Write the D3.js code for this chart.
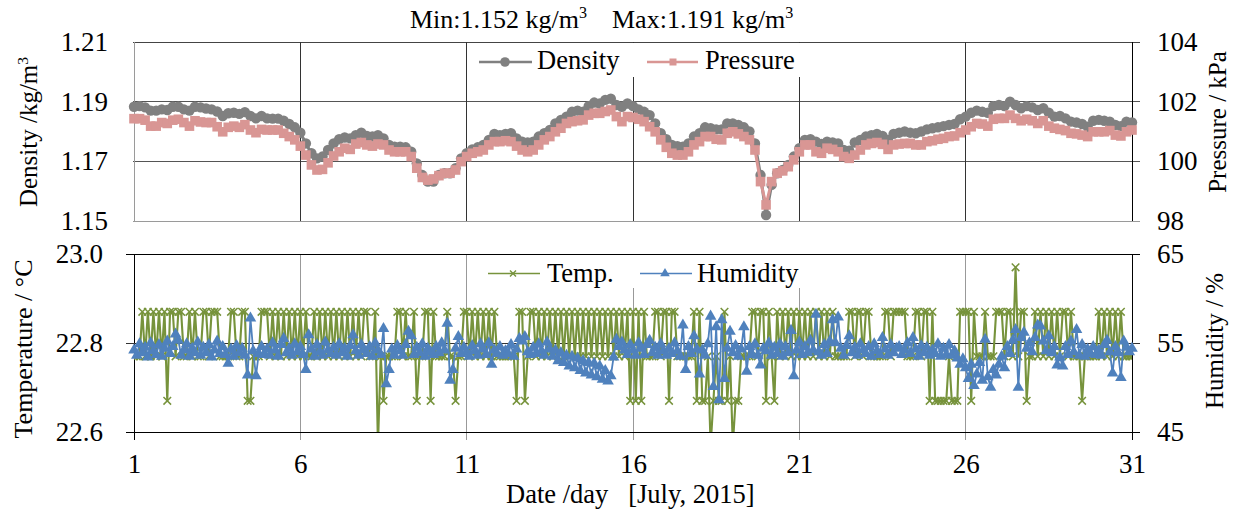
<!DOCTYPE html>
<html>
<head>
<meta charset="utf-8">
<script src="https://cdn.jsdelivr.net/npm/d3@7"></script>
<style>
  body { margin: 0; background: #fff; }
  svg, svg text { font-family: "Liberation Serif", "Times New Roman", serif; fill: #000; }
</style>
</head>
<body>
<div id="chart"></div>
<script>
// July 2015 indoor air record
const dayTicks = [1, 6, 11, 16, 21, 26, 31];
const densityTicks = [1.15, 1.17, 1.19, 1.21];
const pressureTicks = [98, 100, 102, 104];
const tempTicks = [22.6, 22.8, 23.0];
const humidityTicks = [45, 55, 65];

// sampling interval of each record, in days
const densityStep = 4 / 24;
const tempStep = 2 / 24;
const humidityStep = 2 / 24;

// density kg/m3, every 4 h (one row per day)
const density = [
  1.1883, 1.1885, 1.1881, 1.1870, 1.1870, 1.1874,
  1.1872, 1.1883, 1.1883, 1.1874, 1.1870, 1.1883,
  1.1881, 1.1877, 1.1874, 1.1867, 1.1852, 1.1861,
  1.1863, 1.1859, 1.1865, 1.1852, 1.1844, 1.1852,
  1.1844, 1.1843, 1.1843, 1.1836, 1.1825, 1.1814,
  1.1796, 1.1760, 1.1727, 1.1710, 1.1716, 1.1738,
  1.1760, 1.1774, 1.1780, 1.1777, 1.1788, 1.1796,
  1.1785, 1.1783, 1.1788, 1.1777, 1.1755, 1.1749,
  1.1749, 1.1747, 1.1732, 1.1693, 1.1654, 1.1632,
  1.1632, 1.1654, 1.1660, 1.1660, 1.1677, 1.1710,
  1.1727, 1.1740, 1.1747, 1.1755, 1.1772, 1.1792,
  1.1788, 1.1792, 1.1794, 1.1777, 1.1766, 1.1763,
  1.1766, 1.1783, 1.1794, 1.1805, 1.1827, 1.1839,
  1.1850, 1.1866, 1.1870, 1.1866, 1.1885, 1.1897,
  1.1894, 1.1906, 1.1910, 1.1889, 1.1883, 1.1894,
  1.1885, 1.1874, 1.1866, 1.1855, 1.1827, 1.1794,
  1.1774, 1.1755, 1.1751, 1.1749, 1.1760, 1.1783,
  1.1794, 1.1814, 1.1811, 1.1807, 1.1807, 1.1827,
  1.1827, 1.1822, 1.1814, 1.1800, 1.1760, 1.1654,
  1.1520, 1.1621, 1.1660, 1.1671, 1.1688, 1.1716,
  1.1744, 1.1772, 1.1774, 1.1766, 1.1758, 1.1766,
  1.1763, 1.1760, 1.1738, 1.1736, 1.1763, 1.1772,
  1.1783, 1.1788, 1.1792, 1.1785, 1.1772, 1.1792,
  1.1796, 1.1800, 1.1796, 1.1794, 1.1800, 1.1807,
  1.1811, 1.1814, 1.1818, 1.1822, 1.1825, 1.1841,
  1.1850, 1.1863, 1.1870, 1.1866, 1.1863, 1.1885,
  1.1889, 1.1885, 1.1900, 1.1889, 1.1878, 1.1885,
  1.1881, 1.1872, 1.1878, 1.1863, 1.1850, 1.1852,
  1.1844, 1.1833, 1.1830, 1.1825, 1.1816, 1.1836,
  1.1839, 1.1836, 1.1833, 1.1822, 1.1818, 1.1833,
  1.1830
];

// pressure kPa, every 4 h
const pressure = [
  101.43, 101.43, 101.38, 101.18, 101.18, 101.30,
  101.27, 101.38, 101.41, 101.30, 101.18, 101.36,
  101.32, 101.30, 101.30, 101.16, 100.99, 101.14,
  101.18, 101.14, 101.23, 101.05, 100.96, 101.07,
  101.05, 101.05, 101.05, 100.94, 100.83, 100.72,
  100.51, 100.21, 99.88, 99.71, 99.73, 99.95,
  100.18, 100.32, 100.44, 100.40, 100.58, 100.63,
  100.55, 100.51, 100.58, 100.55, 100.38, 100.32,
  100.32, 100.32, 100.16, 99.77, 99.46, 99.37,
  99.41, 99.52, 99.60, 99.60, 99.71, 99.99,
  100.16, 100.27, 100.32, 100.38, 100.55, 100.66,
  100.66, 100.69, 100.66, 100.51, 100.38, 100.32,
  100.38, 100.55, 100.72, 100.83, 100.99, 101.11,
  101.27, 101.33, 101.36, 101.39, 101.55, 101.61,
  101.61, 101.67, 101.72, 101.50, 101.33, 101.50,
  101.47, 101.41, 101.33, 101.16, 100.99, 100.72,
  100.47, 100.27, 100.21, 100.21, 100.32, 100.55,
  100.66, 100.83, 100.83, 100.74, 100.72, 100.94,
  100.99, 100.92, 100.83, 100.72, 100.38, 99.32,
  98.54, 99.32, 99.60, 99.68, 99.82, 100.05,
  100.32, 100.55, 100.55, 100.32, 100.27, 100.44,
  100.40, 100.32, 100.16, 100.10, 100.21, 100.38,
  100.55, 100.60, 100.63, 100.57, 100.40, 100.55,
  100.58, 100.60, 100.60, 100.55, 100.55, 100.66,
  100.69, 100.74, 100.77, 100.83, 100.85, 100.96,
  101.05, 101.16, 101.27, 101.25, 101.18, 101.41,
  101.44, 101.44, 101.55, 101.44, 101.36, 101.41,
  101.36, 101.27, 101.36, 101.18, 101.11, 101.07,
  101.03, 100.94, 100.92, 100.88, 100.83, 100.99,
  100.99, 100.99, 101.03, 100.88, 100.85, 100.99,
  101.05
];

// temperature degC, every 2 h
const temperature = [
  22.77,22.77,22.77,22.87,22.77,22.87,22.77,22.87,22.77,22.87,22.77,22.87,
  22.67,22.87,22.87,22.77,22.87,22.87,22.77,22.77,22.87,22.77,22.87,22.77,
  22.77,22.87,22.87,22.77,22.87,22.87,22.87,22.77,22.77,22.77,22.77,22.87,
  22.87,22.77,22.77,22.87,22.87,22.67,22.67,22.77,22.77,22.77,22.87,22.87,
  22.87,22.77,22.87,22.77,22.87,22.77,22.87,22.77,22.87,22.77,22.87,22.77,
  22.87,22.77,22.87,22.77,22.77,22.87,22.77,22.87,22.77,22.87,22.77,22.87,
  22.77,22.87,22.77,22.87,22.77,22.87,22.77,22.87,22.77,22.87,22.77,22.87,
  22.87,22.77,22.77,22.87,22.57,22.77,22.67,22.77,22.77,22.77,22.77,22.87,
  22.87,22.77,22.87,22.77,22.77,22.87,22.67,22.77,22.77,22.87,22.87,22.67,
  22.87,22.77,22.77,22.77,22.77,22.87,22.77,22.77,22.67,22.77,22.77,22.87,
  22.87,22.77,22.87,22.77,22.87,22.77,22.87,22.77,22.87,22.77,22.87,22.77,
  22.77,22.77,22.77,22.77,22.77,22.77,22.67,22.87,22.87,22.67,22.77,22.87,
  22.87,22.77,22.87,22.77,22.87,22.77,22.87,22.77,22.87,22.77,22.87,22.77,
  22.87,22.77,22.87,22.77,22.87,22.77,22.87,22.77,22.87,22.77,22.87,22.77,
  22.87,22.77,22.87,22.77,22.87,22.77,22.87,22.77,22.87,22.77,22.87,22.67,
  22.87,22.67,22.87,22.67,22.87,22.77,22.77,22.77,22.87,22.87,22.77,22.87,
  22.87,22.67,22.87,22.87,22.77,22.77,22.77,22.77,22.77,22.77,22.87,22.67,
  22.87,22.67,22.67,22.77,22.57,22.67,22.77,22.67,22.67,22.87,22.67,22.77,
  22.57,22.67,22.67,22.77,22.77,22.77,22.77,22.87,22.87,22.77,22.87,22.87,
  22.67,22.87,22.77,22.67,22.87,22.77,22.87,22.77,22.87,22.77,22.87,22.77,
  22.87,22.77,22.87,22.77,22.87,22.77,22.87,22.77,22.87,22.77,22.87,22.77,
  22.87,22.77,22.77,22.77,22.77,22.77,22.87,22.87,22.77,22.87,22.87,22.77,
  22.87,22.87,22.77,22.77,22.77,22.77,22.77,22.87,22.87,22.77,22.87,22.87,
  22.87,22.87,22.87,22.77,22.77,22.77,22.87,22.87,22.77,22.87,22.87,22.67,
  22.87,22.67,22.67,22.67,22.67,22.67,22.77,22.67,22.67,22.67,22.87,22.87,
  22.87,22.87,22.67,22.87,22.77,22.77,22.77,22.87,22.77,22.77,22.77,22.87,
  22.87,22.87,22.77,22.87,22.87,22.77,22.97,22.77,22.87,22.87,22.67,22.77,
  22.77,22.87,22.77,22.87,22.77,22.87,22.77,22.87,22.77,22.87,22.77,22.87,
  22.87,22.77,22.87,22.77,22.77,22.77,22.67,22.77,22.77,22.77,22.77,22.77,
  22.87,22.77,22.87,22.77,22.87,22.77,22.87,22.77,22.87,22.77,22.77,22.77,
  22.77
];

// relative humidity %, every 2 h
const humidity = [
  54.2, 53.6, 54.9, 53.9, 54.5, 53.4, 55.0, 54.1, 53.7, 54.8, 53.5, 54.4,
  55.2, 53.8, 54.6, 56.0, 55.3, 53.6, 54.2, 54.9, 53.5, 54.4, 53.9, 55.1,
  53.6, 54.5, 53.9, 54.8, 53.4, 54.2, 55.2, 53.8, 54.6, 53.7, 52.7, 54.3,
  53.5, 54.7, 53.9, 54.4, 53.6, 51.4, 57.8, 54.1, 51.3, 53.8, 54.6, 53.7,
  54.3, 53.6, 55.0, 54.2, 53.5, 54.8, 55.5, 53.9, 54.4, 53.6, 54.9, 54.0,
  54.6, 53.7, 52.0, 55.9, 54.3, 53.5, 54.8, 54.0, 53.6, 55.1, 54.2, 53.8,
  54.5, 53.6, 54.9, 53.9, 54.4, 53.5, 54.7, 55.9, 54.1, 53.6, 54.8, 54.2,
  53.8, 54.6, 53.5, 55.0, 54.2, 53.7, 56.6, 50.4, 52.0, 54.3, 53.6, 54.7,
  54.1, 53.6, 54.8, 56.3, 55.8, 53.7, 54.5, 53.9, 54.9, 53.5, 54.4, 54.0,
  53.7, 54.6, 53.9, 55.0, 54.2, 57.2, 50.8, 52.0, 54.4, 55.7, 53.8, 54.5,
  54.0, 53.5, 54.7, 54.1, 53.6, 54.9, 54.3, 53.7, 55.0, 52.6, 54.2, 53.8,
  54.6, 53.6, 54.1, 53.8, 54.8, 53.5, 54.3, 55.5, 55.2, 55.7, 54.0, 53.7,
  54.5, 53.8, 54.9, 54.1, 53.6, 55.1, 54.3, 53.5, 54.2, 53.0, 53.9, 52.8,
  53.6, 52.4, 53.5, 52.2, 53.3, 51.9, 53.0, 51.6, 52.8, 51.4, 52.7, 51.2,
  52.4, 50.9, 51.9, 50.7, 51.3, 53.4, 55.4, 54.6, 55.1, 54.2, 53.7, 54.8,
  54.2, 53.6, 55.0, 54.4, 53.7, 54.8, 55.3, 53.9, 54.5, 53.6, 54.9, 54.1,
  53.6, 54.4, 53.8, 55.0, 54.1, 53.5, 57.0, 52.0, 54.6, 53.8, 55.8, 54.3,
  51.5, 54.2, 53.6, 54.9, 58.0, 50.1, 56.8, 48.6, 57.6, 51.0, 54.4, 56.3,
  53.9, 54.7, 53.5, 54.3, 56.8, 51.8, 54.6, 53.7, 54.9, 53.6, 52.5, 54.4,
  54.1, 55.0, 53.6, 54.5, 53.8, 54.9, 53.5, 54.6, 53.9, 56.4, 51.3, 54.2,
  55.1, 53.7, 54.6, 53.9, 55.3, 54.2, 58.2, 54.0, 53.6, 54.8, 53.8, 55.2,
  57.6, 55.0, 57.9, 54.4, 53.6, 54.7, 55.8, 53.9, 54.5, 53.6, 54.9, 54.2,
  53.8, 54.6, 53.5, 54.9, 54.1, 53.7, 55.6, 54.3, 53.6, 54.8, 53.9, 54.4,
  54.6, 53.7, 54.2, 55.0, 53.8, 55.6, 54.3, 53.5, 54.7, 53.9, 54.5, 53.6,
  54.2, 53.8, 54.9, 53.5, 54.4, 53.7, 54.8, 53.6, 54.1, 53.3, 52.6, 53.2,
  52.2, 51.0, 52.6, 50.2, 51.5, 52.8, 50.8, 55.4, 51.2, 50.0, 52.0, 51.4,
  52.6, 53.5, 52.2, 54.6, 53.8, 55.3, 56.5, 50.0, 55.6, 56.2, 54.4, 55.0,
  54.0, 55.6, 57.0, 56.9, 55.2, 54.1, 55.8, 53.9, 54.6, 52.5, 53.4, 52.4,
  54.6, 53.7, 55.2, 54.0, 56.5, 53.6, 54.8, 53.5, 54.3, 53.8, 54.6, 53.7,
  54.2, 53.6, 54.8, 55.3, 54.0, 51.6, 54.6, 53.9, 51.1, 55.2, 54.5, 54.0,
  54.4
];

const FONT = '"Liberation Serif", "Times New Roman", serif';
const width = 1236, height = 513;
const left = 134, right = 1132;

const svg = d3.select("#chart").append("svg")
  .attr("width", width)
  .attr("height", height);

const x = d3.scaleLinear().domain([1, 31]).range([left, right]);
const yD = d3.scaleLinear().domain([1.15, 1.21]).range([221, 42]);
const yP = d3.scaleLinear().domain([98, 104]).range([221, 42]);
const yT = d3.scaleLinear().domain([22.6, 23.0]).range([432, 254]);
const yH = d3.scaleLinear().domain([45, 65]).range([432, 254]);

function hline(y, x1, x2, color) {
  svg.append("line").attr("x1", x1).attr("x2", x2).attr("y1", y).attr("y2", y)
    .attr("stroke", color).attr("stroke-width", 1).attr("shape-rendering", "crispEdges");
}
function vline(xp, y1, y2, color) {
  svg.append("line").attr("x1", xp).attr("x2", xp).attr("y1", y1).attr("y2", y2)
    .attr("stroke", color).attr("stroke-width", 1).attr("shape-rendering", "crispEdges");
}

// ---- top panel grid
densityTicks.forEach((t, i) => {
  const c = i === 0 ? "#9a9a9a" : (i === densityTicks.length - 1 ? "#444" : "#555");
  hline(yD(t), left - 1, right + 8, c);
});
dayTicks.slice(1, -1).forEach(d => vline(x(d), 42, 221, "#333"));
vline(left, 42, 221, "#9a9a9a");
vline(right, 42, 221, "#000");

// ---- bottom panel grid
dayTicks.slice(1, -1).forEach(d => vline(x(d), 254, 440, "#999"));
vline(left, 254, 440, "#000");
vline(right, 254, 440, "#000");
tempTicks.forEach((t, i) => hline(yT(t), left - 8, right + 8, i === 1 ? "#333" : "#000"));

// ---- axes
function cleanAxis(g, size) {
  g.attr("font-family", null).attr("font-size", null);
  g.select(".domain").remove();
  g.selectAll(".tick line").remove();
  g.selectAll("text").style("font-size", size + "px");
}

svg.append("g").attr("transform", `translate(${left},0)`)
  .call(d3.axisLeft(yD).tickValues(densityTicks).tickSize(0).tickPadding(26)
    .tickFormat(d3.format(".2f")))
  .call(g => cleanAxis(g, 27));

svg.append("g").attr("transform", `translate(${right},0)`)
  .call(d3.axisRight(yP).tickValues(pressureTicks).tickSize(8).tickPadding(17)
    .tickFormat(d3.format("d")))
  .call(g => cleanAxis(g, 27));

svg.append("g").attr("transform", `translate(${left},0)`)
  .call(d3.axisLeft(yT).tickValues(tempTicks).tickSize(8).tickPadding(23)
    .tickFormat(d3.format(".1f")))
  .call(g => cleanAxis(g, 27));

svg.append("g").attr("transform", `translate(${right},0)`)
  .call(d3.axisRight(yH).tickValues(humidityTicks).tickSize(8).tickPadding(17)
    .tickFormat(d3.format("d")))
  .call(g => cleanAxis(g, 27));

svg.append("g").attr("transform", "translate(0,432)")
  .call(d3.axisBottom(x).tickValues(dayTicks).tickSize(8).tickPadding(14)
    .tickFormat(d3.format("d")))
  .call(g => cleanAxis(g, 27));

// ---- series: top panel
const grey = "#808080", pink = "#d99694", green = "#77933c", blue = "#4f81bd";

const dLine = d3.line().x((d, i) => x(1 + i * densityStep)).y(d => yD(d));
svg.append("path").datum(density).attr("d", dLine)
  .attr("fill", "none").attr("stroke", grey).attr("stroke-width", 3);
svg.append("g").selectAll("circle").data(density).join("circle")
  .attr("cx", (d, i) => x(1 + i * densityStep)).attr("cy", d => yD(d))
  .attr("r", 5.2).attr("fill", grey);

const pLine = d3.line().x((d, i) => x(1 + i * densityStep)).y(d => yP(d));
svg.append("path").datum(pressure).attr("d", pLine)
  .attr("fill", "none").attr("stroke", pink).attr("stroke-width", 3);
svg.append("g").selectAll("rect").data(pressure).join("rect")
  .attr("x", (d, i) => x(1 + i * densityStep) - 4.8).attr("y", d => yP(d) - 4.8)
  .attr("width", 9.6).attr("height", 9.6).attr("fill", pink);

// ---- series: bottom panel
svg.append("clipPath").attr("id", "clipB").append("rect")
  .attr("x", left).attr("y", 254).attr("width", right - left).attr("height", 178);

const tG = svg.append("g").attr("clip-path", "url(#clipB)");
const tLine = d3.line().x((d, i) => x(1 + i * tempStep)).y(d => yT(d));
tG.append("path").datum(temperature).attr("d", tLine)
  .attr("fill", "none").attr("stroke", green).attr("stroke-width", 2.1);
const cross = "M-3.8,-3.8L3.8,3.8M-3.8,3.8L3.8,-3.8";
tG.selectAll("path.mk").data(temperature).join("path").attr("class", "mk")
  .attr("transform", (d, i) => `translate(${x(1 + i * tempStep)},${yT(d)})`)
  .attr("d", cross).attr("stroke", green).attr("stroke-width", 1.5).attr("fill", "none");

const hLine = d3.line().x((d, i) => x(1 + i * humidityStep)).y(d => yH(d));
svg.append("path").datum(humidity).attr("d", hLine)
  .attr("fill", "none").attr("stroke", blue).attr("stroke-width", 1.8);
const tri = d3.symbol(d3.symbolTriangle).size(58);
svg.append("g").selectAll("path").data(humidity).join("path")
  .attr("transform", (d, i) => `translate(${x(1 + i * humidityStep)},${yH(d)})`)
  .attr("d", tri).attr("fill", blue);

// ---- legends
svg.append("rect").attr("x", 470).attr("y", 43).attr("width", 340).attr("height", 34).attr("fill", "#fff");
svg.append("line").attr("x1", 479).attr("x2", 532).attr("y1", 62).attr("y2", 62)
  .attr("stroke", grey).attr("stroke-width", 2.5);
svg.append("circle").attr("cx", 505).attr("cy", 62).attr("r", 4.8).attr("fill", grey);
svg.append("text").attr("x", 537).attr("y", 69).style("font-size", "26.5px").text("Density");
svg.append("line").attr("x1", 647).attr("x2", 698).attr("y1", 62).attr("y2", 62)
  .attr("stroke", pink).attr("stroke-width", 2.5);
svg.append("rect").attr("x", 669.5).attr("y", 58.5).attr("width", 7).attr("height", 7).attr("fill", pink);
svg.append("text").attr("x", 705).attr("y", 69).style("font-size", "26.5px").text("Pressure");

svg.append("rect").attr("x", 478).attr("y", 255).attr("width", 330).attr("height", 33).attr("fill", "#fff");
svg.append("line").attr("x1", 488).attr("x2", 540).attr("y1", 273.5).attr("y2", 273.5)
  .attr("stroke", green).attr("stroke-width", 1.6);
svg.append("path").attr("transform", "translate(513,273.5)").attr("d", "M-3,-3L3,3M-3,3L3,-3")
  .attr("stroke", green).attr("stroke-width", 1.4);
svg.append("text").attr("x", 547).attr("y", 282).style("font-size", "26.5px").text("Temp.");
svg.append("line").attr("x1", 640).attr("x2", 692).attr("y1", 273.5).attr("y2", 273.5)
  .attr("stroke", blue).attr("stroke-width", 1.6);
svg.append("path").attr("transform", "translate(665,273.5)")
  .attr("d", d3.symbol(d3.symbolTriangle).size(40)).attr("fill", blue);
svg.append("text").attr("x", 697).attr("y", 282).style("font-size", "26.5px").text("Humidity");

// ---- titles
function supText(xp, yp, main, sup, size) {
  const t = svg.append("text").attr("x", xp).attr("y", yp).style("font-size", size + "px");
  t.append("tspan").text(main);
  t.append("tspan").attr("dy", -size * 0.38).style("font-size", (size * 0.62) + "px").text(sup);
  return t;
}
supText(410, 28, "Min:1.152 kg/m", "3", 26);
supText(612, 28, "Max:1.191 kg/m", "3", 26);

supText(0, 0, "Density /kg/m", "3", 25)
  .attr("text-anchor", "middle")
  .attr("transform", "translate(37,132) rotate(-90)");

svg.append("text").attr("text-anchor", "middle")
  .attr("transform", "translate(32,349) rotate(-90)")
  .style("font-size", "26px").text("Temperature / °C");

svg.append("text").attr("text-anchor", "middle")
  .attr("transform", "translate(1226,122) rotate(-90)")
  .style("font-size", "25px").text("Pressure / kPa");

svg.append("text").attr("text-anchor", "middle")
  .attr("transform", "translate(1223,341) rotate(-90)")
  .style("font-size", "25px").text("Humidity / %");

svg.append("text").attr("x", 506).attr("y", 503).style("font-size", "26.5px")
  .style("white-space", "pre")
  .text("Date /day   [July, 2015]");

// same serif face on every label
svg.selectAll("text").style("font-family", FONT).attr("fill", "#000");
</script>
</body>
</html>
